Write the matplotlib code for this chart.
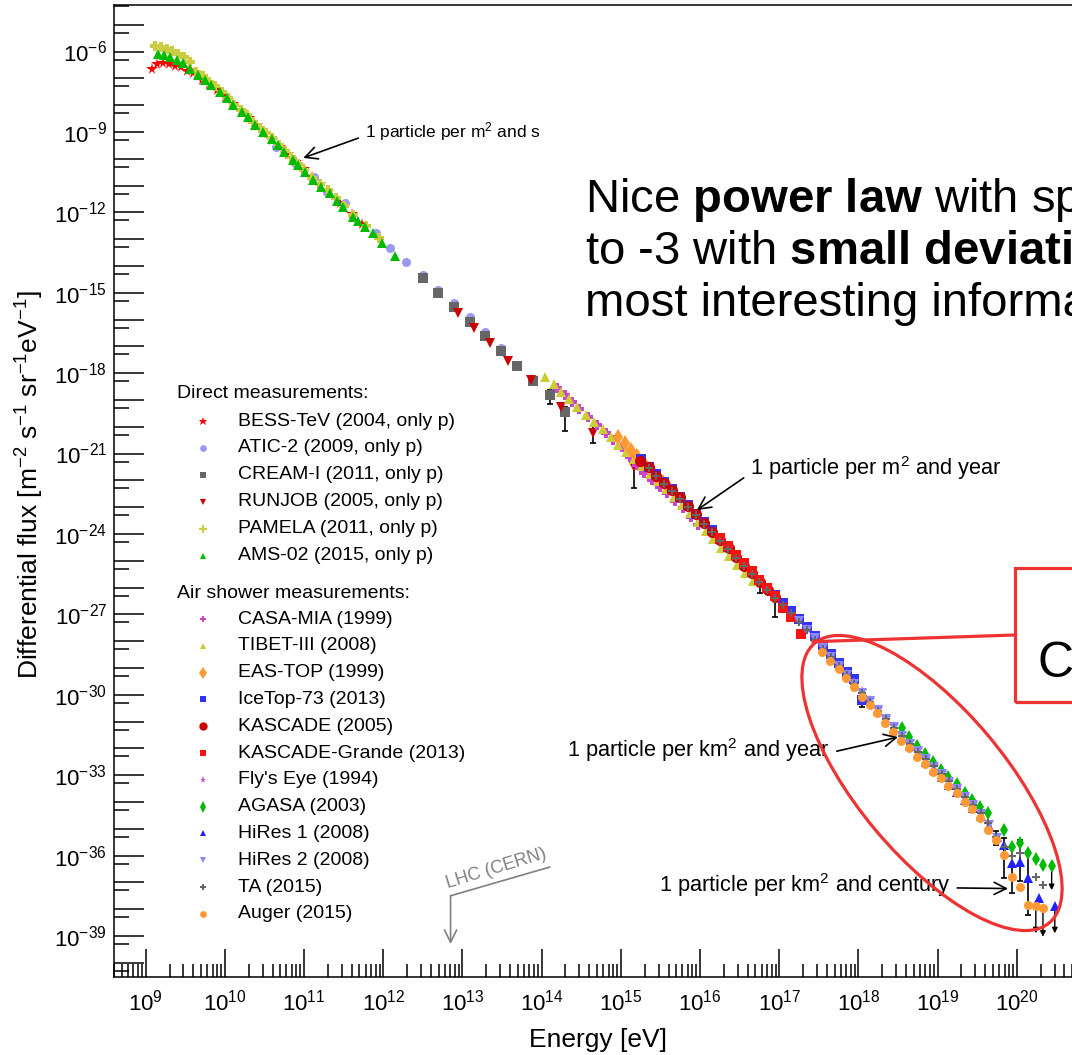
import numpy as np
import matplotlib
matplotlib.use("Agg")
import matplotlib.pyplot as plt
from matplotlib.lines import Line2D
from matplotlib.patches import Ellipse, Rectangle
from matplotlib.ticker import LogLocator, FuncFormatter, NullFormatter

plt.rcParams['font.family'] = ['Liberation Sans', 'DejaVu Sans']
plt.rcParams['mathtext.fontset'] = 'custom'
plt.rcParams['mathtext.rm'] = 'Liberation Sans'
plt.rcParams['mathtext.it'] = 'Liberation Sans:italic'
plt.rcParams['mathtext.bf'] = 'Liberation Sans:bold'

# ---- data: log10(E / eV) and log10(flux / m^-2 s^-1 sr^-1 eV^-1) ----
bess_le = [9.08, 9.14, 9.22, 9.29, 9.37, 9.44, 9.52, 9.60, 9.71, 9.80, 9.90, 10.00, 10.10, 10.20,
           10.30, 10.40, 10.50, 10.60, 10.70, 10.80, 10.90, 11.00, 11.10, 11.20, 11.30, 11.45, 11.60, 11.73]
bess_lf = [-6.66, -6.47, -6.43, -6.47, -6.53, -6.58, -6.72, -6.80, -7.06, -7.22, -7.45, -7.70, -7.96, -8.22,
           -8.48, -8.76, -9.03, -9.30, -9.57, -9.84, -10.12, -10.40, -10.68, -10.96, -11.24, -11.66, -12.08, -12.45]

atic_le = [10.65, 10.89, 11.12, 11.29, 11.52, 11.91, 12.08, 12.29, 12.50, 12.69, 12.89, 13.09, 13.29, 13.49]
atic_lf = [-9.55, -10.15, -10.67, -11.23, -11.65, -12.78, -13.34, -13.84, -14.34, -14.90, -15.40, -15.90, -16.46, -17.07]

cream_le = [12.50, 12.69, 12.89, 13.09, 13.29, 13.49, 13.69, 13.89, 14.10, 14.29]
cream_lf = [-14.46, -15.02, -15.52, -16.08, -16.62, -17.16, -17.73, -18.29, -18.82, -19.44]

runjob_le = [12.95, 13.15, 13.35, 13.57, 13.87, 14.25, 14.65, 15.17]
runjob_lf = [-15.77, -16.33, -16.89, -17.54, -18.26, -19.25, -20.25, -21.49]

pamela_le = [9.12, 9.19, 9.27, 9.33, 9.41, 9.48, 9.56, 9.64, 9.72, 9.80, 9.88, 9.96, 10.04, 10.12, 10.20,
             10.28, 10.36, 10.44, 10.52, 10.60, 10.68, 10.76, 10.84, 10.92, 11.00, 11.10, 11.20, 11.30,
             11.40, 11.50, 11.62, 11.78, 11.95]
pamela_lf = [-5.78, -5.82, -5.91, -5.99, -6.09, -6.21, -6.38, -6.75, -6.93, -7.12, -7.30, -7.50, -7.72, -7.98,
             -8.18, -8.37, -8.62, -8.84, -9.04, -9.24, -9.47, -9.71, -9.94, -10.18, -10.41, -10.71, -10.94,
             -11.15, -11.46, -11.76, -12.10, -12.50, -12.97]

ams_le = [9.16, 9.23, 9.31, 9.39, 9.47, 9.56, 9.66, 9.75, 9.83, 9.94, 10.03, 10.10, 10.21, 10.29, 10.38,
          10.48, 10.59, 10.67, 10.75, 10.86, 10.92, 11.01, 11.11, 11.22, 11.33, 11.41, 11.49, 11.62, 11.68,
          11.77, 11.87, 11.98, 12.15]
ams_lf = [-6.09, -6.13, -6.19, -6.32, -6.44, -6.65, -6.88, -7.06, -7.25, -7.50, -7.74, -8.00, -8.25, -8.44,
          -8.74, -8.99, -9.26, -9.49, -9.74, -10.05, -10.24, -10.49, -10.79, -11.04, -11.28, -11.57, -11.79,
          -12.16, -12.31, -12.54, -12.78, -13.13, -13.63]

casa_le = [14.19, 14.29, 14.38, 14.47, 14.59, 14.70, 14.81, 14.90, 15.01, 15.11, 15.20, 15.29, 15.39,
           15.49, 15.58, 15.68, 15.78, 15.88, 15.98]
casa_lf = [-18.57, -18.82, -19.07, -19.35, -19.63, -19.94, -20.25, -20.50, -20.75, -21.12, -21.43, -21.74,
           -21.99, -22.24, -22.49, -22.76, -23.05, -23.36, -23.68]

tibet_le = [14.04, 14.15, 14.24, 14.35, 14.45, 14.56, 14.66, 14.78, 14.87, 14.97, 15.07, 15.17, 15.27,
            15.37, 15.47, 15.57, 15.67, 15.77, 15.87, 15.97, 16.07, 16.17, 16.27, 16.37, 16.47, 16.57, 16.67]
tibet_lf = [-18.13, -18.41, -18.69, -18.98, -19.25, -19.56, -19.81, -20.10, -20.40, -20.68, -20.95, -21.22,
            -21.48, -21.76, -22.04, -22.32, -22.62, -22.92, -23.22, -23.55, -23.88, -24.20, -24.52, -24.84,
            -25.16, -25.46, -25.76]

eastop_le = [14.97, 15.05, 15.13, 15.21, 15.29, 15.37, 15.45, 15.53, 15.61]
eastop_lf = [-20.40, -20.62, -20.86, -21.10, -21.34, -21.58, -21.82, -22.06, -22.30]

icetop_le = [15.25, 15.35, 15.45, 15.55, 15.65, 15.75, 15.85, 15.95, 16.05, 16.15, 16.25, 16.35, 16.45,
             16.55, 16.65, 16.75, 16.85, 16.95, 17.05, 17.15, 17.25, 17.35, 17.45, 17.55, 17.65, 17.75,
             17.85, 17.95, 18.04]
icetop_lf = [-21.22, -21.50, -21.78, -22.05, -22.33, -22.63, -22.93, -23.24, -23.56, -23.87, -24.18, -24.49,
             -24.80, -25.11, -25.41, -25.70, -26.00, -26.28, -26.57, -26.86, -27.16, -27.48, -27.82, -28.15,
             -28.48, -28.82, -29.16, -29.41, -30.20]

kascade_le = [15.24, 15.35, 15.44, 15.54, 15.64, 15.75, 15.85, 15.95, 16.05, 16.15, 16.25, 16.36, 16.45,
              16.55, 16.65, 16.76, 16.86, 16.95]
kascade_lf = [-21.27, -21.49, -21.84, -22.11, -22.36, -22.63, -22.96, -23.26, -23.60, -23.92, -24.23,
              -24.54, -24.85, -25.20, -25.47, -25.78, -26.09, -26.37]

kg_le = [16.25, 16.35, 16.45, 16.55, 16.65, 16.75, 16.85, 16.95, 17.05, 17.15, 17.28]
kg_lf = [-24.15, -24.45, -24.77, -25.08, -25.40, -25.72, -26.03, -26.33, -26.75, -27.08, -27.75]

flys_le = [17.35, 17.45, 17.55, 17.65, 17.75, 17.85, 17.95, 18.05, 18.15, 18.25, 18.35, 18.45, 18.55,
           18.65, 18.75, 18.85, 18.95, 19.05, 19.15, 19.25, 19.35, 19.45, 19.55]
flys_lf = [-27.55, -27.88, -28.22, -28.55, -28.88, -29.20, -29.53, -29.86, -30.20, -30.52, -30.85, -31.15,
           -31.45, -31.76, -32.06, -32.35, -32.64, -32.92, -33.20, -33.48, -33.78, -34.06, -34.38]

agasa_le = [18.55, 18.64, 18.74, 18.84, 18.94, 19.04, 19.13, 19.24, 19.34, 19.44, 19.53, 19.64, 19.84,
            19.94, 20.04, 20.14, 20.24, 20.33, 20.44]
agasa_lf = [-31.25, -31.57, -31.90, -32.21, -32.50, -32.81, -33.06, -33.33, -33.66, -33.93, -34.20, -34.40,
            -35.05, -35.67, -35.52, -35.92, -36.14, -36.35, -36.39]

hires1_le = [18.55, 18.65, 18.75, 18.85, 18.95, 19.05, 19.15, 19.25, 19.35, 19.45, 19.55, 19.65, 19.75,
             19.84, 19.94, 20.04, 20.14, 20.28, 20.48]
hires1_lf = [-31.62, -31.93, -32.22, -32.52, -32.80, -33.08, -33.36, -33.63, -33.92, -34.22, -34.52, -34.90,
             -35.30, -35.61, -36.29, -36.23, -36.85, -37.60, -37.88]

hires2_le = [17.25, 17.35, 17.45, 17.55, 17.65, 17.75, 17.85, 17.95, 18.05, 18.15, 18.25, 18.35, 18.45,
             18.55, 18.65, 18.75, 18.85, 18.95, 19.05, 19.15, 19.25, 19.35, 19.45, 19.55, 19.65, 19.75]
hires2_lf = [-27.25, -27.58, -27.90, -28.25, -28.58, -28.92, -29.25, -29.58, -29.92, -30.25, -30.58, -30.90,
             -31.22, -31.52, -31.82, -32.10, -32.40, -32.68, -32.96, -33.24, -33.53, -33.83, -34.12, -34.45,
             -34.85, -35.35]

ta_le = [15.35, 15.45, 15.55, 15.65, 15.75, 15.85, 15.95, 16.05, 16.15, 16.25, 16.35, 16.45, 16.55, 16.65,
         16.75, 16.85, 16.95, 17.05, 17.15, 17.25, 17.35, 17.45, 17.55, 17.65, 17.75, 17.85, 17.95, 18.05,
         18.15, 18.25, 18.35, 18.45, 18.55, 18.65, 18.75, 18.85, 18.95, 19.05, 19.15, 19.25, 19.35, 19.45,
         19.55, 19.64, 19.74, 19.85, 19.94, 20.04, 20.24, 20.33]
ta_lf = [-21.55, -21.85, -22.12, -22.40, -22.70, -23.00, -23.30, -23.62, -23.93, -24.25, -24.56, -24.88,
         -25.19, -25.50, -25.80, -26.10, -26.39, -26.65, -26.95, -27.27, -27.60, -27.94, -28.28, -28.60,
         -28.93, -29.26, -29.59, -29.93, -30.27, -30.60, -30.92, -31.23, -31.53, -31.83, -32.12, -32.40,
         -32.67, -32.95, -33.23, -33.51, -33.80, -34.10, -34.42, -34.78, -35.30, -35.67, -36.01, -35.92,
         -36.79, -37.10]

auger_le = [17.54, 17.64, 17.75, 17.84, 17.95, 18.05, 18.14, 18.24, 18.34, 18.44, 18.54, 18.64, 18.74,
            18.84, 18.94, 19.04, 19.13, 19.24, 19.34, 19.44, 19.53, 19.64, 19.74, 19.84, 19.94, 20.04,
            20.14, 20.24, 20.33]
auger_lf = [-28.40, -28.73, -29.05, -29.39, -29.72, -30.07, -30.38, -30.69, -31.04, -31.38, -31.72, -32.00,
            -32.31, -32.59, -32.87, -33.12, -33.41, -33.68, -33.99, -34.28, -34.58, -35.05, -35.42, -35.98,
            -36.79, -37.16, -37.85, -37.87, -37.97]

# error bars (log10 E, upper end, lower end)
err_le = [14.10, 14.29, 14.65, 15.17, 16.76, 16.95, 18.04, 19.74, 19.84, 19.94, 20.04, 20.14]
err_hi = [-18.64, -19.26, -19.99, -21.40, -25.70, -26.30, -29.95, -35.10, -35.36, -35.67, -35.42, -35.92]
err_lo = [-19.14, -20.16, -20.62, -22.29, -26.20, -27.10, -30.45, -35.60, -36.85, -37.41, -36.94, -38.22]

# upper limits drawn as downward arrows
lim_le = [20.24, 20.33, 20.44, 20.48]
lim_hi = [-37.87, -37.97, -36.40, -37.90]
lim_lo = [-38.90, -39.03, -37.29, -38.90]

direct_labels = ["BESS-TeV (2004, only p)", "ATIC-2 (2009, only p)", "CREAM-I (2011, only p)",
                 "RUNJOB (2005, only p)", "PAMELA (2011, only p)", "AMS-02 (2015, only p)"]
shower_labels = ["CASA-MIA (1999)", "TIBET-III (2008)", "EAS-TOP (1999)", "IceTop-73 (2013)",
                 "KASCADE (2005)", "KASCADE-Grande (2013)", "Fly's Eye (1994)", "AGASA (2003)",
                 "HiRes 1 (2008)", "HiRes 2 (2008)", "TA (2015)", "Auger (2015)"]

direct = [(bess_le, bess_lf, '*', '#ff0000', 8.5),
          (atic_le, atic_lf, 'o', '#9999ee', 6.5),
          (cream_le, cream_lf, 's', '#666666', 6.5),
          (runjob_le, runjob_lf, 'v', '#cc0000', 6.5),
          (pamela_le, pamela_lf, 'P', '#cccc44', 7),
          (ams_le, ams_lf, '^', '#00bb00', 6.5)]
shower = [(casa_le, casa_lf, 'P', '#cc44cc', 6.5),
          (tibet_le, tibet_lf, '^', '#cccc33', 6.5),
          (eastop_le, eastop_lf, 'd', '#ff9933', 8),
          (icetop_le, icetop_lf, 's', '#3333ff', 6.5),
          (kascade_le, kascade_lf, 'o', '#cc0000', 8),
          (kg_le, kg_lf, 's', '#ff1111', 6.5),
          (flys_le, flys_lf, '*', '#cc44cc', 7),
          (agasa_le, agasa_lf, 'd', '#00bb00', 7.5),
          (hires1_le, hires1_lf, '^', '#2222ff', 6.5),
          (hires2_le, hires2_lf, 'v', '#8888ff', 6.5),
          (ta_le, ta_lf, 'P', '#666666', 6),
          (auger_le, auger_lf, 'o', '#ff9933', 6.5)]

W, H = 1072, 1055


def fx(px):
    return px / W


def fy(py):
    return 1 - py / H


fig = plt.figure(figsize=(W / 100, H / 100), dpi=100)
ax = fig.add_axes([fx(114), fy(977), 982 / W, 972 / H])
ax.set_xscale('log')
ax.set_yscale('log')
ax.set_xlim(10 ** 8.6, 10 ** 21.0)
ax.set_ylim(10 ** -40.53, 10 ** -4.265)

# error bars and limits
ax.vlines(10 ** np.array(err_le), 10 ** np.array(err_lo), 10 ** np.array(err_hi), color='black', lw=1.2, zorder=2)
ax.plot(10 ** np.array(err_le), 10 ** np.array(err_lo), ls='none', marker='_', ms=5, mew=1.2, color='black', zorder=2)
ax.plot(10 ** np.array(err_le), 10 ** np.array(err_hi), ls='none', marker='_', ms=5, mew=1.2, color='black', zorder=2)
for le, hi, lo in zip(lim_le, lim_hi, lim_lo):
    ax.annotate('', xy=(10 ** le, 10 ** lo), xytext=(10 ** le, 10 ** hi),
                arrowprops=dict(arrowstyle='-|>', color='black', lw=1.0, mutation_scale=8,
                                shrinkA=0, shrinkB=0), zorder=2)

for le, lf, m, c, ms in direct + shower:
    ax.plot(10 ** np.array(le), 10 ** np.array(lf), ls='none', marker=m, color=c, ms=ms, mew=0, zorder=3)

# axes styling
ax.xaxis.set_major_locator(LogLocator(base=10, subs=(1.0,), numticks=40))
ax.xaxis.set_minor_locator(LogLocator(base=10, subs=np.arange(2, 10), numticks=40))
ax.yaxis.set_major_locator(LogLocator(base=10, subs=(1.0,), numticks=60))
ax.yaxis.set_minor_locator(LogLocator(base=10, subs=(5.0,), numticks=60))


def xfmt(v, pos):
    e = int(round(np.log10(v)))
    return r"$10^{%d}$" % e if 9 <= e <= 20 else ""


def yfmt(v, pos):
    e = int(round(np.log10(v)))
    return r"$10^{%d}$" % e if e % 3 == 0 else ""


ax.xaxis.set_major_formatter(FuncFormatter(xfmt))
ax.yaxis.set_major_formatter(FuncFormatter(yfmt))
ax.xaxis.set_minor_formatter(NullFormatter())
ax.yaxis.set_minor_formatter(NullFormatter())
ax.tick_params(axis='x', which='major', direction='in', length=20, width=1.1, labelsize=16, pad=9)
ax.tick_params(axis='x', which='minor', direction='in', length=9.5, width=1.1)
ax.tick_params(axis='y', which='major', direction='in', length=21.5, width=1.1, labelsize=16, pad=5)
ax.tick_params(axis='y', which='minor', direction='in', length=10.8, width=1.1)
for s in ax.spines.values():
    s.set_linewidth(1.1)

fig.text(fx(598), fy(1040), "Energy [eV]", fontsize=19, ha='center', va='center')
fig.text(fx(30), fy(485), r"Differential flux [m$^{-2}$ s$^{-1}$ sr$^{-1}$eV$^{-1}$]",
         fontsize=19, rotation=90, ha='center', va='center')

# legend (drawn by hand: two titled groups)
fig.text(fx(177), fy(393), "Direct measurements:", fontsize=14, va='center')
for i, ((le, lf, m, c, ms), lab) in enumerate(zip(direct, direct_labels)):
    y = 421 + 26.9 * i
    fig.add_artist(Line2D([fx(203)], [fy(y)], transform=fig.transFigure, marker=m, color=c,
                          ms=ms * 0.75, mew=0, ls='none'))
    fig.text(fx(238), fy(y), lab, fontsize=14, va='center')
fig.text(fx(177), fy(593), "Air shower measurements:", fontsize=14, va='center')
for i, ((le, lf, m, c, ms), lab) in enumerate(zip(shower, shower_labels)):
    y = 619 + 26.8 * i
    fig.add_artist(Line2D([fx(203)], [fy(y)], transform=fig.transFigure, marker=m, color=c,
                          ms=ms * 0.75, mew=0, ls='none'))
    fig.text(fx(238), fy(y), lab, fontsize=14, va='center')

# annotations
arrow = dict(arrowstyle='->', color='black', lw=1.2, mutation_scale=22, shrinkA=3, shrinkB=0)
ax.annotate(r"1 particle per m$^{2}$ and s", xy=(10 ** 10.99, 10 ** -9.97), xytext=(10 ** 11.77, 10 ** -8.97),
            fontsize=12.5, va='center', ha='left', arrowprops=dict(arrow, relpos=(0, 0.3)))
ax.annotate(r"1 particle per m$^{2}$ and year", xy=(10 ** 15.96, 10 ** -23.11), xytext=(10 ** 16.63, 10 ** -21.54),
            fontsize=15.7, va='center', ha='left', arrowprops=dict(arrow, relpos=(0, 0.3)))
ax.annotate(r"1 particle per km$^{2}$ and year", xy=(10 ** 18.50, 10 ** -31.58), xytext=(10 ** 17.64, 10 ** -32.06),
            fontsize=15.7, va='center', ha='right', arrowprops=dict(arrow, relpos=(1, 0.4)))
ax.annotate(r"1 particle per km$^{2}$ and century", xy=(10 ** 19.89, 10 ** -37.23), xytext=(10 ** 19.16, 10 ** -37.10),
            fontsize=15.7, va='center', ha='right', arrowprops=dict(arrow, relpos=(1, 0.4)))

# LHC marker
lhc = 10 ** 12.85
ax.annotate('', xy=(lhc, 10 ** -39.3), xytext=(lhc, 10 ** -37.5),
            arrowprops=dict(arrowstyle='->', color='#808080', lw=1.2, mutation_scale=22, shrinkA=0, shrinkB=0))
ax.plot([lhc, 10 ** 14.10], [10 ** -37.5, 10 ** -36.43], color='#808080', lw=1.2)
ax.text(10 ** 12.83, 10 ** -37.35, "LHC (CERN)", rotation=17, rotation_mode='anchor', ha='left', va='bottom',
        color='#808080', fontsize=13)

# slide overlay
fig.text(fx(585), fy(212), r"Nice $\mathbf{power\ law}$ with spectral index close", fontsize=34, va='baseline')
fig.text(fx(585), fy(264), r"to -3 with $\mathbf{small\ deviations}$ containing", fontsize=34, va='baseline')
fig.text(fx(585), fy(316), "most interesting information", fontsize=34, va='baseline')

red = '#ee3333'
fig.add_artist(Ellipse((9.32, (H - 783) / 100), 3.65, 1.47, angle=-50, transform=fig.dpi_scale_trans,
                       fill=False, ec=red, lw=2.3, zorder=10))
fig.add_artist(Rectangle((fx(1015), fy(701.7)), 300 / W, 133.7 / H, transform=fig.transFigure,
                         fill=False, ec=red, lw=2.3, zorder=10))
fig.add_artist(Line2D([fx(813), fx(1015)], [fy(641.7), fy(635)], transform=fig.transFigure, color=red,
                      lw=2.3, zorder=10))
fig.text(fx(1038), fy(664), "C", fontsize=36, va='center', ha='left')

fig.savefig("out.png", dpi=100)
